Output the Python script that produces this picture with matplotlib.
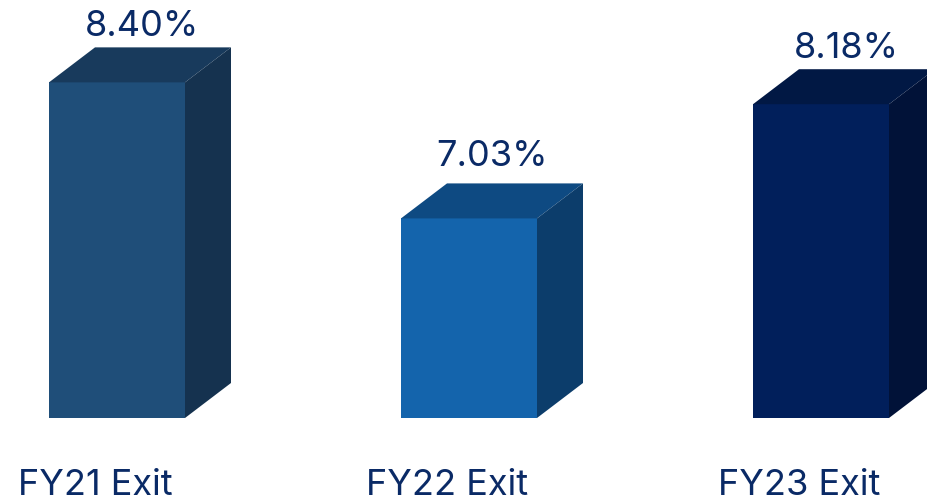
import matplotlib
matplotlib.use("Agg")
import matplotlib.pyplot as plt
from matplotlib.patches import Polygon

categories = ["FY21 Exit", "FY22 Exit", "FY23 Exit"]
values = [8.40, 7.03, 8.18]
value_labels = ["8.40%", "7.03%", "8.18%"]

FRONT = ["#1f4e79", "#1464ac", "#011f5b"]
TOP = ["#183a5c", "#0e4a82", "#011844"]
SIDE = ["#15324f", "#0c3d6b", "#011238"]
TEXT = "#0a2a66"

W, H = 927, 498
BASE = 5.02
PX_PER_UNIT = 99.3
SPACING = 352
BAR_W = 136 / SPACING
DX = 46 / SPACING
DY = 35 / PX_PER_UNIT
LABEL_GAP = [0.21, 0.27, 0.21]  # value labels don't sit at an even height above the bars
LABEL_SHIFT = [0.070, 0.064, 0.072]

plt.rcParams["font.family"] = ["Inter", "DejaVu Sans"]

fig = plt.figure(figsize=(W / 100, H / 100), dpi=100)
ax = fig.add_axes([0, 0, 1, 1])
x0 = -117 / SPACING
ax.set_xlim(x0, x0 + W / SPACING)
ax.set_ylim(BASE - (H - 418) / PX_PER_UNIT, BASE + 418 / PX_PER_UNIT)
ax.axis("off")

for i, (cat, v, lab) in enumerate(zip(categories, values, value_labels)):
    l, r = i - BAR_W / 2, i + BAR_W / 2
    ax.bar(i, v - BASE, BAR_W, bottom=BASE, color=FRONT[i], lw=0)
    ax.add_patch(Polygon([(l, v), (r, v), (r + DX, v + DY), (l + DX, v + DY)], fc=TOP[i], lw=0))
    ax.add_patch(Polygon([(r, BASE), (r + DX, BASE + DY), (r + DX, v + DY), (r, v)], fc=SIDE[i], lw=0))
    ax.text(i + LABEL_SHIFT[i], v + DY + LABEL_GAP[i], lab, ha="center", va="center", fontsize=26, color=TEXT)
    ax.text(i - 0.063, BASE - 0.775, cat, ha="center", va="baseline", fontsize=26, color=TEXT)

fig.savefig("out.png", dpi=100)
